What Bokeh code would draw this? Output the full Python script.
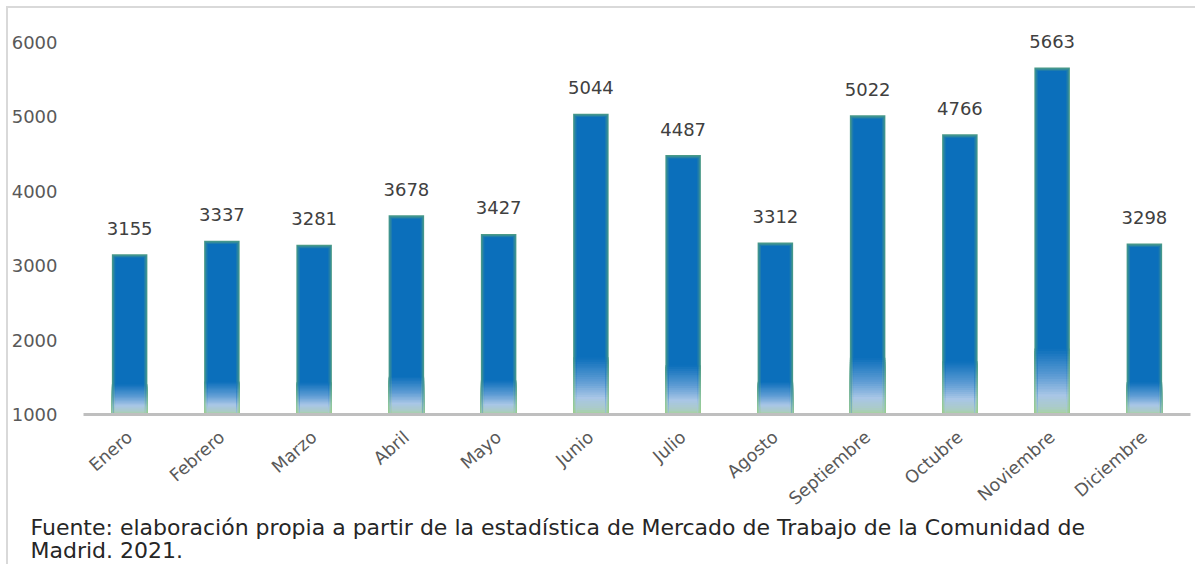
from bokeh.plotting import figure
from bokeh.models import FactorRange, Range1d, Title, FixedTicker
from bokeh.core.properties import value
from bokeh.embed import file_html
from bokeh.resources import INLINE

months = ["Enero", "Febrero", "Marzo", "Abril", "Mayo", "Junio", "Julio",
          "Agosto", "Septiembre", "Octubre", "Noviembre", "Diciembre"]
values = [3155, 3337, 3281, 3678, 3427, 5044, 4487, 3312, 5022, 4766, 5663, 3298]
y_ticks = [1000, 2000, 3000, 4000, 5000, 6000]
source_line1 = "Fuente: elaboración propia a partir de la estadística de Mercado de Trabajo de la Comunidad de"
source_line2 = "Madrid. 2021."

BASE = 1000
Y_END = 6296
FRAME_H = 394
UNITS_PER_PX = (Y_END - BASE) / FRAME_H

p = figure(x_range=FactorRange(*months), y_range=Range1d(BASE, Y_END),
           frame_width=1107, frame_height=FRAME_H,
           min_border_left=73, min_border_right=5, min_border_top=12, min_border_bottom=150,
           output_backend="svg", toolbar_location=None)
p.styles = {"border-top": "2px solid #D9D9D9", "border-left": "2px solid #D9D9D9",
            "margin-top": "6px", "margin-left": "6px"}


def hex2rgb(h):
    h = h.lstrip("#")
    return tuple(int(h[i:i + 2], 16) for i in (0, 2, 4))


def rgb2hex(c):
    return "#%02x%02x%02x" % tuple(int(round(v)) for v in c)


def mix(a, b, t):
    a, b = hex2rgb(a), hex2rgb(b)
    return rgb2hex([a[i] + (b[i] - a[i]) * t for i in range(3)])


def ramp(stops, f):
    if f <= stops[0][0]:
        return stops[0][1]
    for (f0, c0), (f1, c1) in zip(stops, stops[1:]):
        if f <= f1:
            return mix(c0, c1, (f - f0) / (f1 - f0))
    return stops[-1][1]


center_stops = [(0.0, "#A6D49A"), (0.02, "#AACBC8"), (0.055, "#A9C6E6"),
                (0.11, "#5E9CD4"), (0.19, "#0B6FBB")]
edge_stops = [(0.0, "#9CCF8C"), (0.06, "#8FC6A0"), (0.19, "#4A9A88")]
FADE = 0.19
N = 26

heights = [v - BASE for v in values]
layers = [(0.385, 0.0, 0.0), (0.365, 0.35, 1.2), (0.34, 0.7, 2.4), (0.31, 1.0, 3.4)]

for width, t, inset_px in layers:
    tops = [v - inset_px * UNITS_PER_PX for v in values]
    body_col = mix(edge_stops[-1][1], center_stops[-1][1], t)
    p.vbar(x=months, top=tops, bottom=BASE, width=width, fill_color=body_col, line_color=None)
    for i in range(N, 0, -1):
        f1 = FADE * i / N
        fm = FADE * (i - 0.5) / N
        col = mix(ramp(edge_stops, fm), ramp(center_stops, fm), t)
        p.vbar(x=months, top=[BASE + h * f1 for h in heights], bottom=BASE, width=width,
               fill_color=col, line_color=None)

p.text(x=months, y=values, text=[str(v) for v in values], text_align="center",
       text_baseline="middle", y_offset=-26, text_font=value("DejaVu Sans"),
       text_font_size="18px", text_color="#404040")

p.xgrid.grid_line_color = None
p.ygrid.grid_line_color = None
p.outline_line_color = None

p.yaxis.ticker = FixedTicker(ticks=y_ticks)
p.yaxis.axis_line_color = None
p.yaxis.major_tick_line_color = None
p.yaxis.minor_tick_line_color = None
p.yaxis.major_label_standoff = 20
p.yaxis.major_label_text_font = "DejaVu Sans"
p.yaxis.major_label_text_font_size = "18px"
p.yaxis.major_label_text_color = "#595959"

p.xaxis.axis_line_color = "#BFBFBF"
p.xaxis.axis_line_width = 3
p.xaxis.major_tick_line_color = None
p.xaxis.major_label_orientation = 0.72
p.xaxis.major_label_standoff = 14
p.xaxis.major_label_text_font = "DejaVu Sans"
p.xaxis.major_label_text_font_size = "17.5px"
p.xaxis.major_label_text_color = "#595959"

footer = Title(text=source_line1 + "\n" + source_line2, align="left", offset=-53,
               text_font="DejaVu Sans", text_font_size="22px", text_font_style="normal",
               text_color="#262626", text_line_height=0.92, standoff=-13)
p.add_layout(footer, "below")

open("out.html", "w").write(file_html(p, INLINE))
